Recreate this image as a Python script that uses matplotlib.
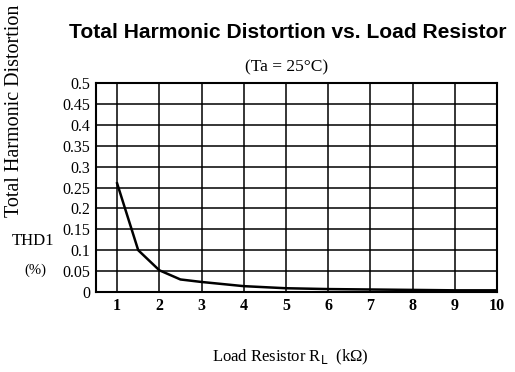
import matplotlib
matplotlib.use("Agg")
import matplotlib.pyplot as plt
import numpy as np

# Load resistance (kOhm) and total harmonic distortion (%)
load_kohm = [1, 1.5, 2, 2.5, 3, 4, 5, 6, 7, 8, 9, 10]
thd_pct = [0.26, 0.10, 0.052, 0.030, 0.024, 0.014, 0.009, 0.007, 0.006, 0.005, 0.004, 0.004]

x_ticks = [1, 2, 3, 4, 5, 6, 7, 8, 9, 10]
y_ticks = [0, 0.05, 0.1, 0.15, 0.2, 0.25, 0.3, 0.35, 0.4, 0.45, 0.5]
y_tick_labels = ["0", "0.05", "0.1", "0.15", "0.2", "0.25", "0.3", "0.35", "0.4", "0.45", "0.5"]

serif = ["Liberation Serif", "DejaVu Serif"]

fig = plt.figure(figsize=(5.15, 3.72), dpi=100)
ax = fig.add_axes([96 / 515, 80 / 372, 401 / 515, 209 / 372])

ax.plot(load_kohm, thd_pct, color="black", lw=1.8, solid_joinstyle="miter")

ax.set_xlim(0.5, 10)
ax.set_ylim(0, 0.5)
ax.set_xticks(x_ticks)
ax.set_yticks(y_ticks)
ax.set_yticklabels(y_tick_labels)
ax.grid(True, color="black", lw=1.1)
ax.tick_params(length=0, pad=4)
for lbl in ax.get_xticklabels():
    lbl.set_fontfamily(serif)
    lbl.set_fontsize(11.5)
    lbl.set_fontweight("bold")
for lbl in ax.get_yticklabels():
    lbl.set_fontfamily(serif)
    lbl.set_fontsize(11.5)
for s in ax.spines.values():
    s.set_linewidth(1.5)

fig.text(288 / 515, 1 - 33 / 372, "Total Harmonic Distortion vs. Load Resistor",
         ha="center", va="center", fontsize=15.1, fontweight="bold",
         family=["Liberation Sans", "DejaVu Sans"])
fig.text(287 / 515, 1 - 67 / 372, "(Ta = 25°C)", ha="center", va="center",
         fontsize=12.5, family=serif)
fig.text(15 / 515, 1 - 217 / 372, "Total Harmonic Distortion", ha="center", va="bottom",
         rotation=90, fontsize=14.5, family=serif)
fig.text(33 / 515, 1 - 241 / 372, "THD1", ha="center", va="center",
         fontsize=12, family=serif)
fig.text(35 / 515, 1 - 270 / 372, "(%)", ha="center", va="center",
         fontsize=10.5, family=serif)
fig.text(290 / 515, 1 - 357 / 372, "Load Resistor R$_\\mathrm{L}$  (kΩ)", ha="center", va="center",
         fontsize=12, family=serif)

fig.savefig("out.png", dpi=100)
